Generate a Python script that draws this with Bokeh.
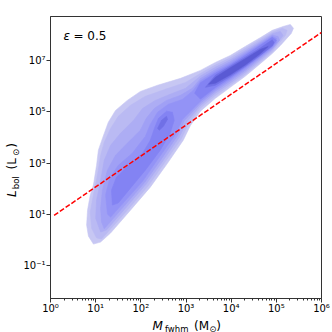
import numpy as np
from bokeh.plotting import figure
from bokeh.layouts import row, column
from bokeh.models import Label, FixedTicker, CustomJSTickFormatter, Range1d
from bokeh.embed import file_html
from bokeh.resources import INLINE

# ---- density contour outlines (log10 M_fwhm, log10 L_bol) ----
L1_logM = [0.95,0.84,0.80,0.82,0.88,0.95,1.02,1.06,1.15,1.28,1.44,1.70,1.99,2.37,2.88,3.32,3.65,3.98,4.31,4.65,4.91,5.15,5.31,5.38,5.33,5.09,4.91,4.65,4.31,3.98,3.65,3.32,3.10,2.94,2.59,2.21,1.77,1.33,1.11]
L1_logL = [-0.16,0.15,0.58,1.16,1.75,2.14,2.91,3.50,3.96,4.59,5.05,5.44,5.79,6.03,6.30,6.61,6.92,7.19,7.54,7.89,8.17,8.32,8.40,8.25,8.05,7.58,7.27,6.88,6.38,5.95,5.52,5.02,4.47,3.89,2.99,2.06,1.16,0.27,-0.08]

L2_logM = [1.02,0.91,0.88,0.95,1.04,1.11,1.19,1.33,1.50,1.77,2.10,2.54,2.99,3.32,3.65,3.98,4.31,4.65,4.91,5.13,5.24,5.20,4.91,4.65,4.31,3.98,3.65,3.32,3.05,2.90,2.54,2.17,1.73,1.28,1.13]
L2_logL = [0.08,0.46,1.09,1.75,2.53,3.30,3.81,4.35,4.82,5.25,5.60,5.87,6.14,6.49,6.82,7.10,7.46,7.82,8.10,8.25,8.17,7.97,7.34,6.96,6.46,6.04,5.63,5.14,4.53,3.95,3.05,2.12,1.22,0.33,0.04]

L3_logM = [1.11,1.00,1.02,1.11,1.19,1.33,1.55,1.84,2.04,2.32,2.65,2.99,3.32,3.65,3.98,4.31,4.65,4.91,5.09,5.15,4.91,4.65,4.31,3.98,3.65,3.32,3.01,2.85,2.50,2.12,1.68,1.24]
L3_logL = [0.31,0.85,1.55,2.33,3.11,3.69,4.16,4.67,5.13,5.44,5.68,5.91,6.39,6.73,7.02,7.38,7.75,8.04,8.13,7.97,7.40,7.02,6.54,6.12,5.72,5.24,4.59,4.00,3.11,2.18,1.28,0.39]

L4_logM = [1.13,1.11,1.15,1.26,1.44,1.70,1.99,2.12,2.30,2.57,2.88,3.14,3.32,3.65,3.98,4.31,4.65,4.91,5.04,5.07,4.91,4.65,4.31,3.98,3.65,3.32,2.96,2.81,2.46,2.08,1.64,1.19]
L4_logL = [0.70,1.24,1.94,2.72,3.30,3.77,4.28,4.74,5.13,5.44,5.64,5.91,6.29,6.64,6.95,7.31,7.69,7.99,7.93,7.78,7.45,7.09,6.61,6.20,5.80,5.33,4.65,4.06,3.17,2.23,1.34,0.44]

L5_logM = [1.26,1.22,1.31,1.50,1.81,2.10,2.21,2.37,2.61,2.92,3.16,3.32,3.65,3.98,4.31,4.65,4.91,5.00,5.00,4.91,4.65,4.31,3.98,3.65,3.32,2.92,2.77,2.41,2.04,1.59,1.33]
L5_logL = [1.01,1.75,2.41,2.91,3.38,4.04,4.51,4.98,5.29,5.48,5.83,6.21,6.57,6.88,7.25,7.64,7.94,7.86,7.70,7.50,7.14,6.67,6.26,5.87,5.41,4.70,4.12,3.23,2.29,1.40,0.89]

L6a_logM = [1.37,1.35,1.46,1.73,2.04,2.21,2.30,2.39,2.57,2.70,2.74,2.65,2.43,2.10,1.77,1.50]
L6a_logL = [1.36,1.94,2.45,2.91,3.38,3.89,4.35,4.74,5.02,4.98,4.67,4.16,3.50,2.72,2.02,1.44]
L6b_logM = [3.19,3.32,3.65,3.98,4.31,4.65,4.91,5.00,4.91,4.65,4.31,3.98,3.65,3.32]
L6b_logL = [5.72,6.13,6.50,6.82,7.19,7.59,7.90,7.78,7.54,7.19,6.73,6.32,5.94,5.49]

L7b_logM = [2.37,2.46,2.57,2.59,2.50,2.41]
L7b_logL = [4.35,4.67,4.82,4.70,4.43,4.28]
L7c_logM = [3.43,3.65,3.98,4.31,4.65,4.91,4.95,4.91,4.65,4.31,3.98,3.65]
L7c_logL = [5.95,6.42,6.77,7.12,7.49,7.80,7.70,7.57,7.21,6.77,6.38,6.03]

L8_logM = [3.50,3.65,3.98,4.31,4.65,4.82,4.65,4.31,3.98,3.65]
L8_logL = [6.07,6.34,6.71,7.06,7.43,7.54,7.27,6.82,6.44,6.11]

level_colors = ["#c7c7f3", "#babaf3", "#adadf4", "#a0a0f5",
                "#9393f6", "#8383f3", "#7070e6", "#5a5ad4"]

# red dashed reference line (two end points)
line_M = [1.2, 1.0e6]
line_L = [9.1, 1.23e8]

x_ticks = [1e0, 1e1, 1e2, 1e3, 1e4, 1e5, 1e6]
y_ticks = [1e-1, 1e1, 1e3, 1e5, 1e7]
x_minor = [m * d for d in [1e0, 1e1, 1e2, 1e3, 1e4, 1e5] for m in range(2, 10)]

levels = [
    [(L1_logM, L1_logL)],
    [(L2_logM, L2_logL)],
    [(L3_logM, L3_logL)],
    [(L4_logM, L4_logL)],
    [(L5_logM, L5_logL)],
    [(L6a_logM, L6a_logL), (L6b_logM, L6b_logL)],
    [(L7b_logM, L7b_logL), (L7c_logM, L7c_logL)],
    [(L8_logM, L8_logL)],
]

p = figure(width=312, height=317, x_axis_type="log", y_axis_type="log",
           x_range=Range1d(1, 1e6), y_range=Range1d(10 ** -2.28, 10 ** 8.71),
           output_backend="svg", toolbar_location=None,
           min_border_left=30, min_border_right=11, min_border_top=16, min_border_bottom=19)
p.xgrid.visible = False
p.ygrid.visible = False
p.background_fill_color = "white"
p.border_fill_color = "white"
p.outline_line_color = "#333333"
p.outline_line_width = 1

for color, pieces in zip(level_colors, levels):
    xs = [list(10 ** np.array(m)) for m, l in pieces]
    ys = [list(10 ** np.array(l)) for m, l in pieces]
    p.patches(xs=xs, ys=ys, fill_color=color, line_color=color, line_width=0.6)

p.line(x=line_M, y=line_L, line_color="red", line_width=1.5, line_dash="5 2")

fmt = CustomJSTickFormatter(code="""
const e = Math.round(Math.log10(tick));
const sup = {"-":"\u207b","0":"\u2070","1":"\u00b9","2":"\u00b2","3":"\u00b3","4":"\u2074","5":"\u2075","6":"\u2076","7":"\u2077","8":"\u2078","9":"\u2079"};
return "10" + String(e).split("").map(c => sup[c]).join("");
""")
p.xaxis.ticker = FixedTicker(ticks=x_ticks, minor_ticks=x_minor)
p.yaxis.ticker = FixedTicker(ticks=y_ticks, minor_ticks=[])
for ax in (p.xaxis[0], p.yaxis[0]):
    ax.formatter = fmt
    ax.major_label_text_font = "DejaVu Sans"
    ax.major_label_text_font_size = "10px"
    ax.major_label_text_color = "black"
    ax.major_tick_in = 0
    ax.major_tick_out = 4
    ax.minor_tick_in = 0
    ax.minor_tick_out = 2
    ax.axis_line_color = "#333333"
    ax.major_tick_line_color = "#333333"
    ax.minor_tick_line_color = "#333333"
    ax.axis_label = None
p.xaxis[0].major_label_standoff = 0
p.yaxis[0].major_label_standoff = 1


def lab(fig, text, x, y, size, italic=False, angle=0.0, units="data", baseline="alphabetic"):
    fig.add_layout(Label(x=x, y=y, x_units=units, y_units=units, text=text,
                         text_font="DejaVu Sans", text_font_size=size,
                         text_font_style="italic" if italic else "normal",
                         text_color="black", text_align="left",
                         text_baseline=baseline, angle=angle))


def blank(w, h, xr, yr):
    f = figure(width=w, height=h, x_range=Range1d(*xr), y_range=Range1d(*yr),
               output_backend="svg", toolbar_location=None,
               x_axis_location=None, y_axis_location=None,
               min_border=0, min_border_left=0, min_border_right=0,
               min_border_top=0, min_border_bottom=0)
    f.xgrid.visible = False
    f.ygrid.visible = False
    f.outline_line_color = None
    f.background_fill_color = "white"
    f.border_fill_color = "white"
    return f


# x-axis label: M_fwhm (M_sun); this strip's frame lines up with the plot frame (x 50..321 px)
xl = blank(312, 15, (50, 321), (0, 15))
lab(xl, "M", 152, 6.5, "12px", italic=True)
lab(xl, "fwhm", 164.5, 4, "8.5px")
lab(xl, "(M", 193.5, 6.5, "12px")
lab(xl, "\u2299", 208.7, 4, "8.5px")
lab(xl, ")", 215.7, 6.5, "12px")

# y-axis label: L_bol (L_sun), rotated; strip frame lines up with the plot frame (y 16..298 px)
yl = blank(20, 332, (0, 20), (34, 316))
a = np.pi / 2
lab(yl, "L", 11.5, 149, "12px", italic=True, angle=a, baseline="middle")
lab(yl, "bol", 15.5, 155.7, "8.5px", angle=a, baseline="middle")
lab(yl, "(L", 11.5, 172.5, "12px", angle=a, baseline="middle")
lab(yl, "\u2299", 15.5, 183.9, "8.5px", angle=a, baseline="middle")
lab(yl, ")", 11.5, 191, "12px", angle=a, baseline="middle")

# annotation in the plot
lab(p, "\u03b5", 13, 263, "12px", italic=True, units="screen")
lab(p, "= 0.5", 23, 263, "12px", units="screen")

layout = row(yl, column(p, xl, spacing=0), spacing=0)
open("out.html", "w").write(file_html(layout, INLINE))
